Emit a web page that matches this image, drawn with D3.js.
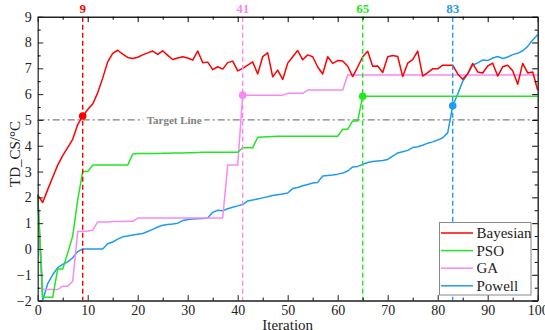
<!DOCTYPE html>
<html>
<head>
<meta charset="utf-8">
<script src="https://cdn.jsdelivr.net/npm/d3@7"></script>
<style>
  body { margin: 0; background: #fff; }
</style>
</head>
<body>
<div id="chart"></div>
<script>
// iterations 0..100
const iterations = d3.range(0, 101);

const bayesian = [2.1, 1.8, 2.3, 2.78, 3.25, 3.62, 3.93, 4.25, 4.82, 5.15,
  5.4, 5.62, 6.05, 6.62, 7.25, 7.58, 7.7, 7.55, 7.42, 7.38,
  7.43, 7.52, 7.6, 7.67, 7.54, 7.68, 7.5, 7.34, 7.4, 7.45,
  7.4, 7.32, 7.67, 7.22, 7.24, 6.95, 7.06, 6.97, 7.22, 7.28,
  6.9, 7.0, 7.12, 7.25, 6.78, 7.45, 7.6, 6.67, 6.93, 6.57,
  7.2, 7.45, 7.69, 7.33, 7.52, 7.45, 7.05, 6.78, 7.45, 7.19,
  7.3, 7.28, 7.08, 6.68, 7.05, 7.45, 7.66, 7.08, 7.09, 6.84,
  7.45, 7.5, 7.46, 6.68, 7.2, 7.34, 7.67, 6.7, 6.83, 6.98,
  6.98, 7.12, 7.12, 7.12, 6.78, 6.58, 6.79, 7.19, 6.86, 6.82,
  7.09, 7.2, 6.7, 7.06, 7.12, 6.91, 6.38, 7.19, 6.82, 6.86,
  6.15];

const pso = [2.1, -1.87, -1.87, -1.87, -0.78, -0.78, -0.15, 0.5, 1.9, 3.0,
  3.0, 3.25, 3.25, 3.25, 3.25, 3.25, 3.25, 3.25, 3.25, 3.68,
  3.7, 3.7, 3.7, 3.7, 3.7, 3.71, 3.71, 3.72, 3.72, 3.72,
  3.73, 3.73, 3.74, 3.75, 3.75, 3.75, 3.75, 3.75, 3.75, 3.75,
  3.75, 3.92, 3.92, 3.92, 4.33, 4.34, 4.35, 4.36, 4.37, 4.37,
  4.37, 4.37, 4.37, 4.37, 4.37, 4.37, 4.37, 4.37, 4.37, 4.37,
  4.37, 4.64, 4.64, 4.96, 4.96, 5.92, 5.92, 5.92, 5.92, 5.92,
  5.92, 5.92, 5.92, 5.92, 5.92, 5.92, 5.92, 5.92, 5.92, 5.92,
  5.92, 5.92, 5.92, 5.92, 5.92, 5.92, 5.92, 5.92, 5.92, 5.92,
  5.92, 5.92, 5.92, 5.92, 5.92, 5.92, 5.92, 5.92, 5.92, 5.92,
  5.92];

const ga = [2.1, -1.57, -1.57, -1.57, -1.57, -1.44, -1.44, -1.25, 0.68, 0.69,
  0.7, 0.73, 1.05, 1.05, 1.05, 1.06, 1.06, 1.06, 1.07, 1.07,
  1.2, 1.2, 1.2, 1.2, 1.2, 1.2, 1.2, 1.2, 1.2, 1.2,
  1.2, 1.2, 1.2, 1.2, 1.2, 1.2, 1.2, 1.2, 3.25, 3.25,
  3.25, 5.96, 5.96, 5.96, 5.96, 5.96, 5.96, 5.96, 5.96, 5.96,
  6.03, 6.03, 6.03, 6.03, 6.16, 6.16, 6.16, 6.16, 6.16, 6.16,
  6.16, 6.16, 6.74, 6.74, 6.74, 6.74, 6.74, 6.74, 6.74, 6.74,
  6.74, 6.74, 6.74, 6.74, 6.74, 6.74, 6.74, 6.74, 6.74, 6.74,
  6.74, 6.74, 6.74, 6.74, 6.74, 6.74, 6.74, 6.74, 6.74, 6.74,
  6.74, 6.74, 6.74, 6.74, 6.74, 6.74, 6.74, 6.74, 6.74, 6.74,
  6.74];

const powell = [2.1, -2.0, -1.34, -1.0, -0.72, -0.6, -0.5, -0.34, -0.1, 0.0,
  0.0, 0.0, 0.0, 0.0, 0.2, 0.27, 0.38, 0.47, 0.5, 0.54,
  0.57, 0.6, 0.68, 0.76, 0.85, 0.92, 0.95, 0.97, 1.0, 1.1,
  1.14, 1.16, 1.17, 1.18, 1.2, 1.42, 1.5, 1.48, 1.56, 1.62,
  1.67, 1.72, 1.86, 1.9, 1.94, 1.98, 2.02, 2.07, 2.1, 2.13,
  2.17, 2.34, 2.38, 2.45, 2.5, 2.56, 2.58, 2.83, 2.85, 2.87,
  2.9, 2.94, 3.02, 3.18, 3.2, 3.28, 3.35, 3.39, 3.41, 3.43,
  3.47, 3.6, 3.72, 3.77, 3.82, 3.93, 3.96, 4.02, 4.1, 4.15,
  4.22, 4.31, 4.5, 5.55, 6.0, 6.5, 6.77, 7.12, 7.21, 7.32,
  7.3, 7.4, 7.46, 7.38, 7.44, 7.53, 7.58, 7.68, 7.85, 8.1,
  8.3];

const seriesNames = ["Bayesian", "PSO", "GA", "Powell"];
const seriesValues = [bayesian, pso, ga, powell];
const seriesColors = ["#ff0000", "#22e622", "#f78af2", "#1f9bef"];

// iteration where each method first reaches the target
const hitIters = [9, 65, 41, 83];
const hitValues = [5.15, 5.92, 5.96, 5.55];

const targetValue = 5;
const xTicks = d3.range(0, 101, 10);
const yTicks = d3.range(-2, 10, 1);

const W = 545, H = 330;
const margin = {left: 37.7, right: 7.3, top: 16.7, bottom: 29.4};
const serif = "Liberation Serif, Times New Roman, DejaVu Serif, serif";

const svg = d3.select("#chart").append("svg")
    .attr("width", W)
    .attr("height", H)
    .attr("font-family", serif);

const x = d3.scaleLinear().domain([0, 100]).range([margin.left, W - margin.right]);
const y = d3.scaleLinear().domain([-2, 9]).range([H - margin.bottom, margin.top]);

// target line
const gTarget = svg.append("g");
gTarget.append("line")
    .attr("x1", x(0)).attr("x2", x(100))
    .attr("y1", y(targetValue)).attr("y2", y(targetValue))
    .attr("stroke", "#7f7f7f")
    .attr("stroke-width", 1.3)
    .attr("stroke-dasharray", "7,3,2,3");
gTarget.append("rect")
    .attr("x", x(21.1)).attr("y", y(targetValue) - 6)
    .attr("width", x(33.3) - x(21.1)).attr("height", 12)
    .attr("fill", "#fff");
gTarget.append("text")
    .attr("x", x(21.8)).attr("y", y(targetValue) + 3.6)
    .attr("font-family", serif)
    .attr("font-size", "11px")
    .attr("font-weight", "bold")
    .attr("fill", "#7f7f7f")
    .text("Target Line");

// series lines
const line = d3.line()
    .x((d, i) => x(iterations[i]))
    .y(d => y(d));

// back-to-front: Powell, GA, PSO, Bayesian
[3, 2, 1, 0].forEach(function(k){
    svg.append("path")
        .datum(seriesValues[k])
        .attr("fill", "none")
        .attr("stroke", seriesColors[k])
        .attr("stroke-width", 1.5)
        .attr("stroke-linejoin", "round")
        .attr("d", line);
});

// vertical markers
hitIters.forEach(function(it, k){
    svg.append("line")
        .attr("x1", x(it)).attr("x2", x(it))
        .attr("y1", y(9)).attr("y2", y(-2))
        .attr("stroke", seriesColors[k])
        .attr("stroke-width", 1.4)
        .attr("stroke-dasharray", "5,3");
    svg.append("circle")
        .attr("cx", x(it)).attr("cy", y(hitValues[k]))
        .attr("r", 3.8)
        .attr("fill", seriesColors[k]);
    svg.append("text")
        .attr("x", x(it)).attr("y", 13)
        .attr("text-anchor", "middle")
        .attr("font-family", serif)
        .attr("font-size", "13px")
        .attr("font-weight", "bold")
        .attr("fill", seriesColors[k])
        .text(it);
});

// axes, ticks pointing inward
const minorX = d3.range(5, 100, 10);
const minorY = d3.range(-1.5, 9, 1);

function styleAxis(g){
    g.attr("font-family", serif);
    g.selectAll("text").attr("font-family", serif).attr("font-size", "14px").attr("fill", "#222");
    g.selectAll(".tick line").attr("stroke", "#222");
}

const gx = svg.append("g")
    .attr("transform", `translate(0,${y(-2)})`)
    .call(d3.axisBottom(x).tickValues(xTicks).tickSize(-5.5).tickPadding(4).tickSizeOuter(0));
styleAxis(gx);
gx.select(".domain").attr("stroke", "#555").attr("stroke-width", 2);
svg.append("g")
    .attr("transform", `translate(0,${y(-2)})`)
    .call(d3.axisBottom(x).tickValues(minorX).tickSize(-3).tickFormat("").tickSizeOuter(0))
    .call(g => g.select(".domain").remove());

const gxt = svg.append("g")
    .attr("transform", `translate(0,${y(9)})`)
    .call(d3.axisTop(x).tickValues(xTicks).tickSize(-5.5).tickFormat("").tickSizeOuter(0));
gxt.select(".domain").attr("stroke", "#222").attr("stroke-width", 1.4);
svg.append("g")
    .attr("transform", `translate(0,${y(9)})`)
    .call(d3.axisTop(x).tickValues(minorX).tickSize(-3).tickFormat("").tickSizeOuter(0))
    .call(g => g.select(".domain").remove());

const gy = svg.append("g")
    .attr("transform", `translate(${x(0)},0)`)
    .call(d3.axisLeft(y).tickValues(yTicks).tickSize(-5.5).tickPadding(6).tickSizeOuter(0));
styleAxis(gy);
gy.select(".domain").attr("stroke", "#222").attr("stroke-width", 1.2);
svg.append("g")
    .attr("transform", `translate(${x(0)},0)`)
    .call(d3.axisLeft(y).tickValues(minorY).tickSize(-3).tickFormat("").tickSizeOuter(0))
    .call(g => g.select(".domain").remove());

const gyr = svg.append("g")
    .attr("transform", `translate(${x(100)},0)`)
    .call(d3.axisRight(y).tickValues(yTicks).tickSize(-5.5).tickFormat("").tickSizeOuter(0));
gyr.select(".domain").attr("stroke", "#222").attr("stroke-width", 1.4);
svg.append("g")
    .attr("transform", `translate(${x(100)},0)`)
    .call(d3.axisRight(y).tickValues(minorY).tickSize(-3).tickFormat("").tickSizeOuter(0))
    .call(g => g.select(".domain").remove());

// axis titles
svg.append("text")
    .attr("x", (x(0) + x(100)) / 2).attr("y", 329.5)
    .attr("text-anchor", "middle")
    .attr("font-family", serif)
    .attr("font-size", "15px")
    .attr("fill", "#222")
    .text("Iteration");
svg.append("text")
    .attr("transform", `translate(20,154) rotate(-90)`)
    .attr("text-anchor", "middle")
    .attr("font-family", serif)
    .attr("font-size", "15px")
    .attr("fill", "#222")
    .text("TD_CS/°C");

// legend
const lg = svg.append("g").attr("transform", "translate(439.5,222.5)");
lg.append("rect")
    .attr("width", 91.5).attr("height", 72.5)
    .attr("fill", "#fff")
    .attr("stroke", "#888")
    .attr("stroke-width", 1);
seriesNames.forEach(function(name, k){
    const ry = 10.5 + k * 17.6;
    lg.append("line")
        .attr("x1", 1.5).attr("x2", 33.5)
        .attr("y1", ry).attr("y2", ry)
        .attr("stroke", seriesColors[k])
        .attr("stroke-width", 1.5);
    lg.append("text")
        .attr("x", 37).attr("y", ry + 5)
        .attr("font-family", serif)
        .attr("font-size", "15px")
        .attr("fill", "#222")
        .text(name);
});
</script>
</body>
</html>
